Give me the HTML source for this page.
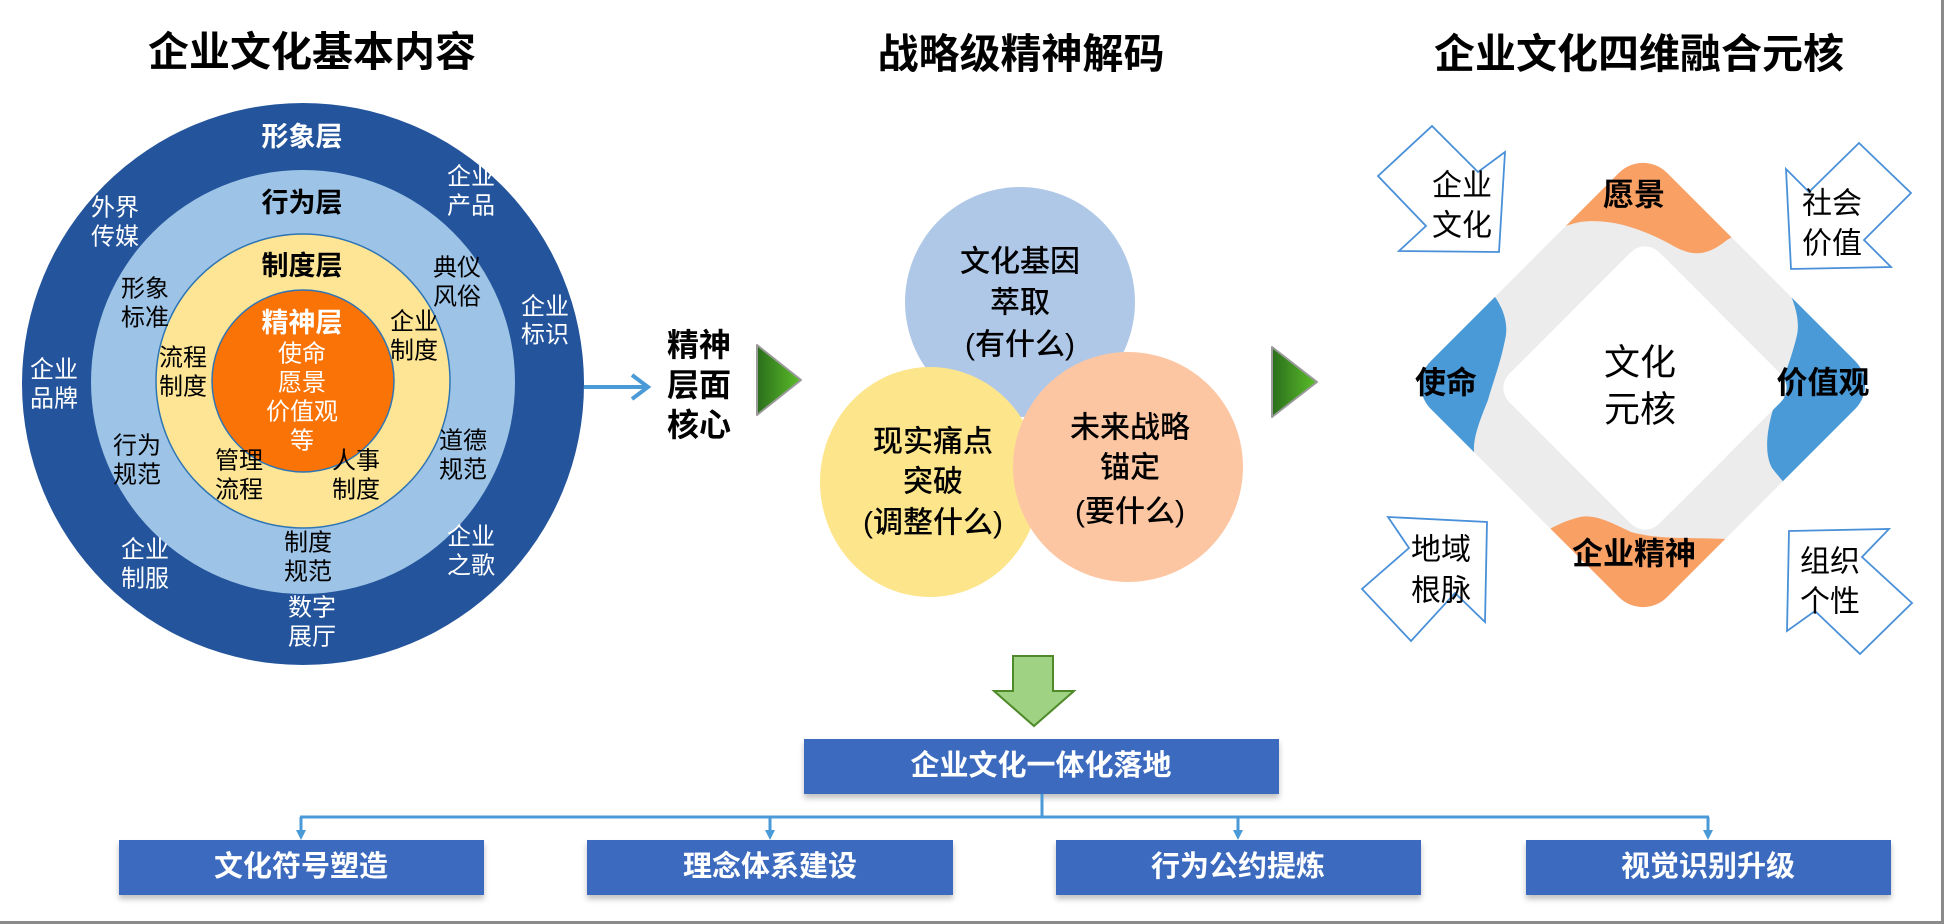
<!DOCTYPE html>
<html><head><meta charset="utf-8"><style>
html,body{margin:0;padding:0;background:#fff;}
svg{display:block;font-family:"Liberation Sans","Noto Sans CJK SC",sans-serif;}
</style></head><body>
<svg width="1944" height="924" viewBox="0 0 1944 924" xmlns="http://www.w3.org/2000/svg">
<defs>
<linearGradient id="gr" x1="0" y1="0" x2="1" y2="0"><stop offset="0" stop-color="#2a6e1c"/><stop offset="1" stop-color="#5cbf2a"/></linearGradient>
<clipPath id="dm"><rect x="-167" y="-167" width="334" height="334" rx="34" transform="translate(1643,385) rotate(45)"/></clipPath>
<filter id="sh" x="-5%" y="-10%" width="110%" height="140%"><feDropShadow dx="0" dy="4" stdDeviation="3" flood-color="#000" flood-opacity="0.25"/></filter>
</defs>
<rect width="1944" height="924" fill="#fff"/>
<line x1="0" y1="922.5" x2="1944" y2="922.5" stroke="#8a8a8a" stroke-width="3"/>
<line x1="1942.5" y1="0" x2="1942.5" y2="924" stroke="#8a8a8a" stroke-width="3"/>

<g font-size="41" font-weight="bold" text-anchor="middle" dominant-baseline="central" fill="#000">
<text x="312" y="52">企业文化基本内容</text>
<text x="1021" y="54">战略级精神解码</text>
<text x="1639" y="54">企业文化四维融合元核</text>
</g>

<circle cx="303" cy="384" r="281" fill="#24559c"/>
<circle cx="303" cy="382" r="212" fill="#9dc3e6"/>
<circle cx="303" cy="381" r="147" fill="#fde595" stroke="#2e75b6" stroke-width="1.5"/>
<circle cx="303" cy="381" r="91" fill="#f97306" stroke="#2e75b6" stroke-width="1.5"/>
<g text-anchor="middle" dominant-baseline="central">
<g font-size="27" font-weight="bold">
<text x="302" y="137" fill="#fff">形象层</text>
<text x="302" y="203" fill="#000">行为层</text>
<text x="302" y="266" fill="#000">制度层</text>
<text x="302" y="323" fill="#fff">精神层</text>
</g>
<g font-size="24" fill="#fff">
<text x="302" y="354">使命</text><text x="302" y="383">愿景</text><text x="302" y="412">价值观</text><text x="302" y="441">等</text>
<text x="115" y="208">外界</text><text x="115" y="237">传媒</text>
<text x="471" y="177">企业</text><text x="471" y="206">产品</text>
<text x="545" y="307">企业</text><text x="545" y="335">标识</text>
<text x="54" y="370">企业</text><text x="54" y="399">品牌</text>
<text x="145" y="550">企业</text><text x="145" y="579">制服</text>
<text x="471" y="537">企业</text><text x="471" y="566">之歌</text>
<text x="312" y="608">数字</text><text x="312" y="637">展厅</text>
</g>
<g font-size="24" fill="#000">
<text x="457" y="268">典仪</text><text x="457" y="297">风俗</text>
<text x="145" y="289">形象</text><text x="145" y="318">标准</text>
<text x="414" y="322">企业</text><text x="414" y="351">制度</text>
<text x="183" y="358">流程</text><text x="183" y="387">制度</text>
<text x="137" y="446">行为</text><text x="137" y="475">规范</text>
<text x="463" y="441">道德</text><text x="463" y="470">规范</text>
<text x="239" y="461">管理</text><text x="239" y="490">流程</text>
<text x="356" y="461">人事</text><text x="356" y="490">制度</text>
<text x="308" y="543">制度</text><text x="308" y="572">规范</text>
</g>
</g>

<line x1="584" y1="387" x2="646" y2="387" stroke="#4a9ad8" stroke-width="4"/>
<polyline points="632,375 648,387 632,399" fill="none" stroke="#4a9ad8" stroke-width="4"/>
<g font-size="32" font-weight="bold" text-anchor="middle" dominant-baseline="central">
<text x="699" y="345">精神</text><text x="699" y="385">层面</text><text x="699" y="425">核心</text>
</g>
<polygon points="757,345 801,380 757,415" fill="url(#gr)" stroke="#9a9a9a" stroke-width="2" stroke-linejoin="round"/>
<polygon points="1272,347 1317,382 1272,417" fill="url(#gr)" stroke="#9a9a9a" stroke-width="2" stroke-linejoin="round"/>

<ellipse cx="1020" cy="302" rx="115" ry="115" fill="#b0c8e8"/>
<ellipse cx="930" cy="482" rx="110" ry="115" fill="#fde58c"/>
<ellipse cx="1128" cy="467" rx="115" ry="115" fill="#fdc6a3"/>
<g font-size="30" font-weight="500" text-anchor="middle" dominant-baseline="central">
<text x="1020" y="262">文化基因</text><text x="1020" y="303">萃取</text><text x="1020" y="345">(有什么)</text>
<text x="933" y="442">现实痛点</text><text x="933" y="482">突破</text><text x="933" y="523">(调整什么)</text>
<text x="1130" y="428">未来战略</text><text x="1130" y="468">锚定</text><text x="1130" y="512">(要什么)</text>
</g>

<rect x="-167" y="-167" width="334" height="334" rx="34" transform="translate(1643,385) rotate(45)" fill="#ececec"/>
<g clip-path="url(#dm)">
<path d="M1500,120 L1780,120 L1780,250 C1755,230 1740,232 1727,240 C1705,258 1690,256 1670,244 C1640,228 1610,218 1580,222 C1560,226 1545,235 1530,245 Z" fill="#f9a065"/>
<path d="M1500,650 L1780,650 L1780,545 C1760,540 1740,540 1727,539 C1690,537 1660,540 1631,532 C1610,522 1595,514 1580,517 C1560,522 1548,530 1530,540 Z" fill="#f9a065"/>
<path d="M1380,280 L1485,285 C1500,300 1510,320 1505,340 C1500,365 1492,385 1488,400 C1478,425 1470,445 1476,462 C1478,470 1482,478 1485,490 L1380,490 Z" fill="#4a9ad8"/>
<path d="M1910,280 L1788,288 C1795,305 1800,320 1797,335 C1790,365 1778,390 1772,413 C1766,435 1765,455 1772,468 C1778,476 1784,482 1790,490 L1910,490 Z" fill="#4a9ad8"/>
</g>
<rect x="-106" y="-106" width="212" height="212" rx="20" transform="translate(1645,388) rotate(45)" fill="#fff"/>
<g text-anchor="middle" dominant-baseline="central" fill="#000">
<g font-size="31" font-weight="bold">
<text x="1634" y="195">愿景</text>
<text x="1634" y="554">企业精神</text>
<text x="1446" y="383">使命</text>
<text x="1823" y="383">价值观</text>
</g>
<g font-size="36"><text x="1640" y="362">文化</text><text x="1640" y="409">元核</text></g>
</g>
<g fill="#fff" stroke="#4a90d9" stroke-width="1.8" stroke-linejoin="miter">
<polygon points="1378,176 1432,126 1478,172 1505,152 1499,252 1399,251 1426,226"/>
<polygon points="1859,143 1911,193 1864,240 1891,267 1791,269 1786,169 1809,192"/>
<polygon points="1388,517 1487,522 1485,622 1455,593 1411,641 1362,589 1409,548"/>
<polygon points="1789,531 1889,529 1862,557 1912,603 1860,654 1815,611 1787,631"/>
</g>
<g font-size="30" text-anchor="middle" dominant-baseline="central" fill="#000">
<text x="1462" y="186">企业</text><text x="1462" y="226">文化</text>
<text x="1832" y="204">社会</text><text x="1832" y="244">价值</text>
<text x="1441" y="550">地域</text><text x="1441" y="591">根脉</text>
<text x="1830" y="562">组织</text><text x="1830" y="602">个性</text>
</g>

<polygon points="1013,656 1053,656 1053,691 1074,691 1034,726 994,691 1013,691" fill="#9fd383" stroke="#4f8a2a" stroke-width="2"/>

<g filter="url(#sh)" fill="#3a6bbf">
<rect x="804" y="739" width="475" height="55"/>
<rect x="119" y="840" width="365" height="55"/>
<rect x="587" y="840" width="366" height="55"/>
<rect x="1056" y="840" width="365" height="55"/>
<rect x="1526" y="840" width="365" height="55"/>
</g>
<g stroke="#4a9ad8" stroke-width="3" fill="none">
<line x1="1042" y1="794" x2="1042" y2="817"/>
<line x1="300" y1="817" x2="1709" y2="817"/>
<line x1="301" y1="817" x2="301" y2="834"/>
<line x1="770" y1="817" x2="770" y2="834"/>
<line x1="1238" y1="817" x2="1238" y2="834"/>
<line x1="1708" y1="817" x2="1708" y2="834"/>
</g>
<g fill="#4a9ad8">
<polygon points="296,830 306,830 301,840"/><polygon points="765,830 775,830 770,840"/>
<polygon points="1233,830 1243,830 1238,840"/><polygon points="1703,830 1713,830 1708,840"/>
</g>
<g fill="#fff" font-size="29" font-weight="bold" text-anchor="middle" dominant-baseline="central">
<text x="1041" y="766">企业文化一体化落地</text>
<text x="301" y="867">文化符号塑造</text>
<text x="770" y="867">理念体系建设</text>
<text x="1238" y="867">行为公约提炼</text>
<text x="1708" y="867">视觉识别升级</text>
</g>
</svg>
</body></html>
